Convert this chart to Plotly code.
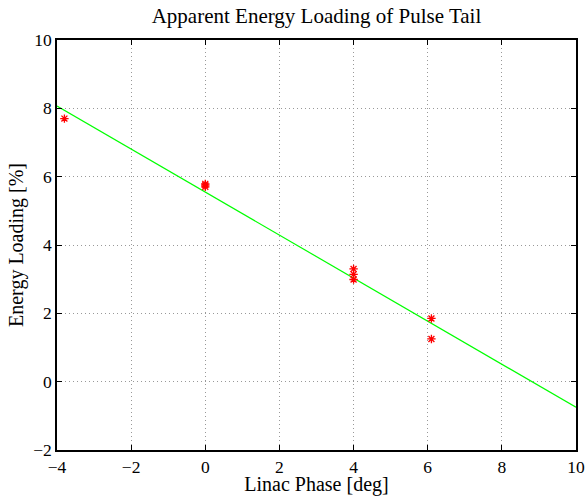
import plotly.graph_objects as go

# measured data points
phase = [-3.8, 0.0, 0.0, 0.0, 4.0, 4.0, 4.0, 6.1, 6.1]
loading = [7.70, 5.79, 5.75, 5.70, 3.30, 3.14, 2.99, 1.85, 1.25]

# linear fit line endpoints
fit_x = [-4.0, 10.0]
fit_y = [8.07, -0.75]

x_ticks = [-4, -2, 0, 2, 4, 6, 8, 10]
y_ticks = [-2, 0, 2, 4, 6, 8, 10]

font_family = "Liberation Serif, Times New Roman, serif"

fig = go.Figure()
fig.add_trace(go.Scatter(
    x=fit_x, y=fit_y, mode="lines",
    line=dict(color="#00ff00", width=1.2),
    showlegend=False, hoverinfo="skip",
))
fig.add_trace(go.Scatter(
    x=phase, y=loading, mode="markers",
    marker=dict(symbol="asterisk-open", size=7, color="red",
                line=dict(color="red", width=1.3)),
    showlegend=False,
))

axis_common = dict(
    showline=True, linecolor="black", linewidth=1.5, mirror="ticks",
    ticks="inside", ticklen=5, tickcolor="black", tickwidth=1,
    showgrid=True, gridcolor="#999999", griddash="1px,3px", gridwidth=1,
    zeroline=False, automargin=False,
    tickfont=dict(family=font_family, size=17.5, color="black"),
)

fig.update_layout(
    width=587, height=496,
    margin=dict(l=57, r=10.5, t=40, b=46),
    paper_bgcolor="white", plot_bgcolor="white",
    font=dict(family=font_family, color="black"),
    title=dict(text="Apparent Energy Loading of Pulse Tail",
               x=0.5, xanchor="center", xref="paper",
               y=1 - 16 / 496, yanchor="middle", yref="container",
               font=dict(family=font_family, size=21, color="black")),
    xaxis=dict(range=[-4, 10], tickvals=x_ticks,
               ticktext=[str(v).replace("-", "\u2212") for v in x_ticks],
               title=dict(text="Linac Phase [deg]", standoff=4,
                          font=dict(family=font_family, size=20)),
               **axis_common),
    yaxis=dict(range=[-2, 10], tickvals=y_ticks,
               ticktext=[str(v).replace("-", "\u2212") for v in y_ticks],
               title=dict(text="Energy Loading [%]", standoff=4,
                          font=dict(family=font_family, size=20)),
               **axis_common),
)

fig.write_html("out.html",
               config={"displayModeBar": False},
               post_script="document.body.style.margin='0';document.body.style.overflow='hidden';")
